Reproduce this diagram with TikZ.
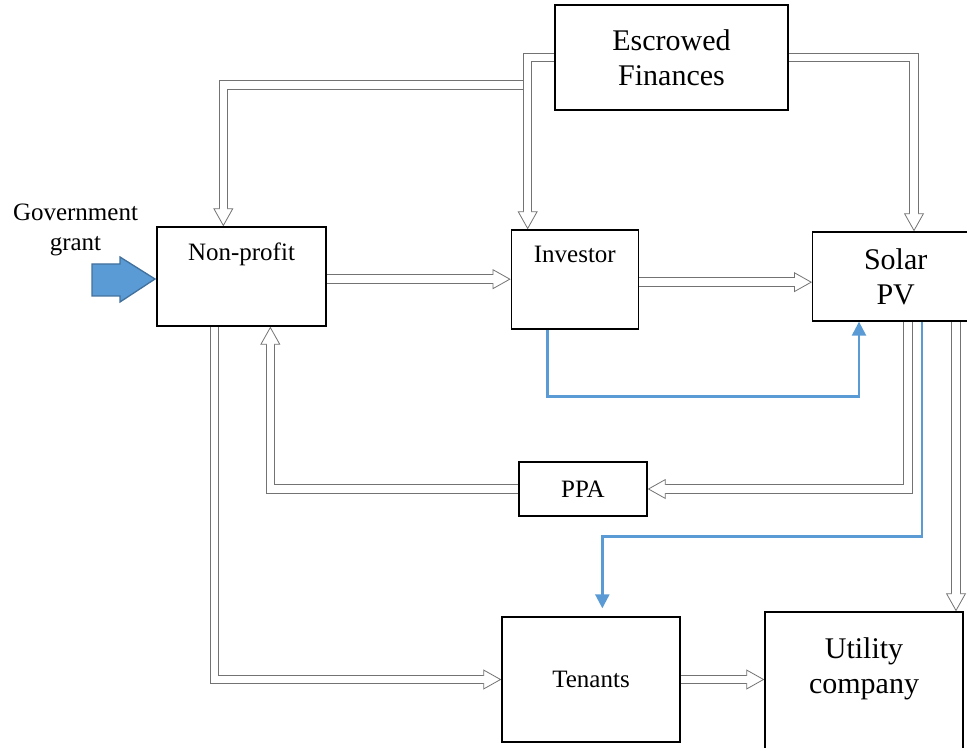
\documentclass[tikz,border=0pt]{standalone}
\usepackage{fontspec}
\setmainfont{Liberation Serif}
\usetikzlibrary{arrows.meta,positioning,calc,backgrounds}
\definecolor{pvblue}{HTML}{5B9BD5}
\definecolor{pvblueedge}{HTML}{41719C}

\begin{document}
\begin{tikzpicture}[x=0.75pt, y=-0.75pt,
  box/.style={draw=black, line width=1pt, fill=white, inner sep=0pt, align=center},
  lbl/.style={font=\fontsize{18.75}{22.5}\selectfont},
  big/.style={font=\fontsize{22.5}{26}\selectfont},
  hollow/.style={draw=black!55, line width=7pt, -{Triangle[open, fill=white, width=15pt, length=13.5pt, line width'=0.6pt]}, postaction={draw=white, line width=5.5pt, -, shorten >=12pt}},
  blueline/.style={draw=pvblue, line width=1.8pt, -{Triangle[width=10.5pt, length=10.5pt]}},
  grantarrow/.style={draw=pvblueedge, line width=1pt, fill=pvblue, line join=miter}]
\useasboundingbox (0,0) rectangle (967,748);
\node[box, big, minimum width=174.75pt, minimum height=78.75pt] (esc) at (671.5,57.5) {Escrowed\\Finances};
\node[box, minimum width=126.75pt, minimum height=74.25pt, label={[lbl,anchor=base,yshift=-25.5pt]north:Non-profit}] (np) at (241.5,276.5) {};
\node[box, minimum width=95.25pt, minimum height=74.25pt, right=138pt of np, yshift=-2.25pt, label={[lbl,anchor=base,yshift=-24.75pt]north:Investor}] (inv) {};
\node[box, big, minimum width=124.5pt, minimum height=66.75pt, right=129.75pt of inv, yshift=2.25pt] (sol) {Solar\\PV};
\node[box, lbl, minimum width=96pt, minimum height=40.5pt] (ppa) at (583,489) {PPA};
\node[box, lbl, minimum width=133.5pt, minimum height=93.75pt] (ten) at (591,679.5) {Tenants};
\node[box, minimum width=148.5pt, minimum height=133.5pt, label={[big,align=center,inner sep=0pt,anchor=north,yshift=-19.5pt]north:Utility\\company}] (util) at (864,701) {};
\node[lbl, align=center] (grant) at (75.5,230) {Government\\grant};
\draw[grantarrow] (92,264) -- (120,264) -- (120,257) -- (155,279) -- (120,302) -- (120,296) -- (92,296) -- cycle;
% connector end points
\coordinate (split) at (523,85);
\coordinate (invin) at ($(inv.north west)+(17,0)$);
\coordinate (npin) at ($(np.north west)+(67,0)$);
\coordinate (pvin) at ($(sol.north west)+(102,0)$);
\coordinate (npout) at ([yshift=-2pt]np.east);
\coordinate (invpv) at ([yshift=-2pt]inv.east);
\coordinate (invout) at ($(inv.south west)+(37,0)$);
\coordinate (pvfund) at ($(sol.south west)+(47,0)$);
\coordinate (pvppa) at ($(sol.south west)+(96,0)$);
\coordinate (nppa) at ($(np.south west)+(114,0)$);
\coordinate (pvten) at ($(sol.south west)+(110,0)$);
\coordinate (tenin) at ($(ten.north west)+(101,0)$);
\coordinate (pvutil) at ($(sol.south west)+(144,0)$);
\coordinate (npten) at ($(np.south west)+(58,0)$);
\begin{scope}[on background layer]
\draw[hollow] (split) -| (npin);
\draw[hollow] (esc.west) -| (invin);
\draw[hollow] (esc.east) -| (pvin);
\draw[hollow] (npout) -- (npout -| inv.west);
\draw[hollow] (invpv) -- (invpv -| sol.west);
\draw[blueline] (invout) -- ++(0,67) -| (pvfund);
\draw[hollow] (pvppa) |- (ppa.east);
\draw[hollow] (ppa.west) -| (nppa);
\draw[blueline, shorten >=6pt] (pvten) -- ++(0,215) -| (tenin);
\draw[hollow] (pvutil) -- (pvutil |- util.north);
\draw[hollow] (npten) |- (ten.west);
\draw[hollow] (ten.east) -- (ten.east -| util.west);
\end{scope}
\end{tikzpicture}
\end{document}
